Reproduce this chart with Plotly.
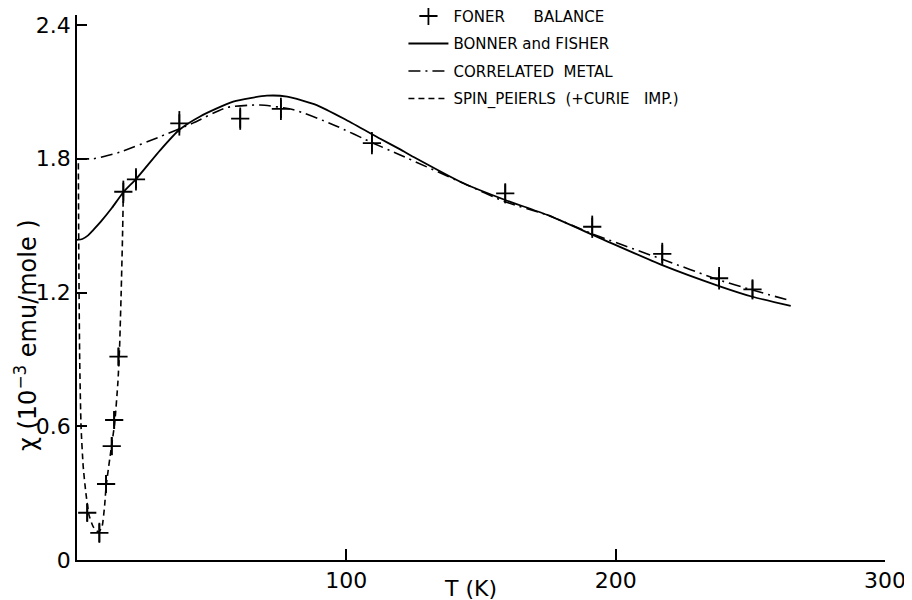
import plotly.graph_objects as go

# ---- data ----
foner_T = [3.8, 8.3, 10.8, 12.9, 13.8, 15.4, 17.2, 21.9, 38.0, 60.6, 75.7, 109.5, 159.0, 191.3, 217.3, 238.4, 250.8]
foner_chi = [0.212, 0.122, 0.341, 0.511, 0.628, 0.912, 1.652, 1.708, 1.959, 1.98, 2.024, 1.87, 1.645, 1.495, 1.373, 1.264, 1.214]
foner_err = [0.04, 0.045, 0.04, 0.04, 0.04, 0.04, 0.05, 0.05, 0.055, 0.05, 0.05, 0.05, 0.045, 0.05, 0.05, 0.05, 0.045]

bf_T = [0, 2, 4, 6, 9, 13, 17.2, 22, 31, 38, 45.7, 58, 70.5, 78, 89, 100, 112.6, 120, 125, 143.5, 159, 174.6, 194.4, 217.3, 238.4, 250.8, 265]
bf_chi = [1.436, 1.44, 1.455, 1.48, 1.52, 1.58, 1.65, 1.71, 1.84, 1.93, 1.99, 2.056, 2.083, 2.079, 2.041, 1.974, 1.89, 1.842, 1.808, 1.69, 1.615, 1.548, 1.443, 1.323, 1.229, 1.181, 1.14]

cm_T = [0, 6, 10, 16, 31, 43, 55.6, 68, 80.4, 95.3, 110, 120, 143.5, 159, 174.6, 190.7, 217.3, 238.4, 250.8, 265]
cm_chi = [1.80, 1.80, 1.81, 1.83, 1.90, 1.96, 2.03, 2.041, 2.02, 1.952, 1.87, 1.817, 1.69, 1.607, 1.548, 1.466, 1.349, 1.256, 1.211, 1.163]

sp_T = [0.5, 0.7, 1.0, 1.5, 2.3, 3.3, 4.5, 6.0, 8.0, 9.3, 10.3, 10.8, 12.8, 14.0, 15.2, 15.8, 16.4, 16.9, 17.2]
sp_chi = [1.78, 1.30, 0.90, 0.60, 0.42, 0.30, 0.20, 0.15, 0.125, 0.15, 0.25, 0.33, 0.51, 0.615, 0.80, 0.95, 1.20, 1.45, 1.65]

x_ticks = [100, 200, 300]
y_ticks = [0, 0.6, 1.2, 1.8, 2.4]
y_tick_labels = ["0", "0.6", "1.2", "1.8", "2.4"]

FONT = "DejaVu Sans, Liberation Sans, sans-serif"
NB = "\u00a0"

fig = go.Figure()

fig.add_trace(go.Scatter(
    x=foner_T, y=foner_chi, mode="markers",
    name="FONER" + NB * 6 + "BALANCE", legendgroup="a",
    marker=dict(symbol="cross-thin", size=13, color="black",
                line=dict(color="black", width=1.8)),
    error_y=dict(type="data", array=foner_err, visible=True,
                 color="black", thickness=1.8, width=0),
))
fig.add_trace(go.Scatter(
    x=bf_T, y=bf_chi, mode="lines", name="BONNER and FISHER", legendgroup="b",
    line=dict(color="black", width=1.8, shape="spline", smoothing=0.6),
))
fig.add_trace(go.Scatter(
    x=cm_T, y=cm_chi, mode="lines", name="CORRELATED" + NB * 2 + "METAL", legendgroup="c",
    line=dict(color="black", width=1.6, dash="12px,5px,2px,5px", shape="spline", smoothing=0.6),
))
fig.add_trace(go.Scatter(
    x=sp_T, y=sp_chi, mode="lines",
    name="SPIN_PEIERLS" + NB * 2 + "(+CURIE" + NB * 3 + "IMP.)", legendgroup="d",
    line=dict(color="black", width=1.6, dash="6px,4px", shape="spline", smoothing=0.5),
))

# the page body adds an 8px offset; margins below compensate for it
fig.update_layout(
    width=912, height=600,
    margin=dict(l=69, r=35, t=7, b=48, autoexpand=False),
    paper_bgcolor="white", plot_bgcolor="white",
    font=dict(family=FONT, color="black", size=15),
    showlegend=True,
    legend=dict(x=0.404, y=1.028, xanchor="left", yanchor="top",
                bgcolor="rgba(0,0,0,0)", font=dict(size=15, family=FONT),
                tracegroupgap=5, itemwidth=40),
    xaxis=dict(range=[0, 300], showline=True, linecolor="black", linewidth=1.5,
               ticks="inside", ticklen=11, tickwidth=1.5, tickcolor="black",
               tickvals=x_ticks, ticktext=[str(v) for v in x_ticks],
               tickfont=dict(size=22, family=FONT),
               showgrid=False, zeroline=False, ticklabelstandoff=0),
    yaxis=dict(range=[0, 2.445], showline=True, linecolor="black", linewidth=1.5,
               ticks="inside", ticklen=10, tickwidth=1.5, tickcolor="black",
               tickvals=y_ticks, ticktext=y_tick_labels,
               tickfont=dict(size=22, family=FONT),
               showgrid=False, zeroline=False, ticklabelstandoff=0),
    annotations=[
        dict(text="\u03c7 (10<sup>\u22123</sup> emu/mole )", textangle=-90,
             xref="paper", yref="paper", x=-0.063, y=0.413,
             xanchor="center", yanchor="middle", showarrow=False,
             font=dict(size=24, family=FONT)),
        dict(text="T (K)", xref="paper", yref="paper", x=0.487, y=-0.053,
             xanchor="center", yanchor="middle", showarrow=False,
             font=dict(size=22, family=FONT)),
    ],
)

fig.write_html("out.html")
